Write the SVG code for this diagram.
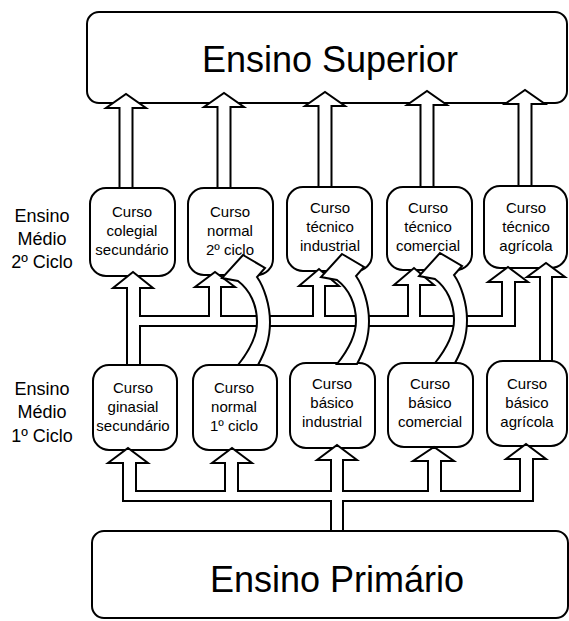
<svg xmlns="http://www.w3.org/2000/svg" width="569" height="621" viewBox="0 0 569 621">
<style>
.box{fill:#fff;stroke:#000;stroke-width:2}
.big{font-family:"Liberation Sans",Arial,sans-serif;font-size:36px;text-anchor:middle;fill:#000}
.t{font-family:"Liberation Sans",Arial,sans-serif;font-size:15px;text-anchor:middle;fill:#000}
.lab{font-family:"Liberation Sans",Arial,sans-serif;font-size:18px;text-anchor:middle;fill:#000}
.pipe{fill:#fff;stroke:#000;stroke-width:2;stroke-linejoin:miter}
</style>
<defs>
<path id="curve" d="M243,255 L265,268 L257,277 C264,287 270,305 270,322 C270,340 265,352 258,365 L238,365 C250,350 257,335 257,322 C257,305 250,290 238,281 L222,278 Z"/>
</defs>
<rect width="569" height="621" fill="#fff"/>

<g id="labels">
<text class="lab" x="42" y="222">Ensino</text>
<text class="lab" x="42" y="245">Médio</text>
<text class="lab" x="42" y="268">2º Ciclo</text>
<text class="lab" x="42" y="395">Ensino</text>
<text class="lab" x="42" y="418">Médio</text>
<text class="lab" x="42" y="442">1º Ciclo</text>
</g>

<g id="superior">
<rect class="box" x="87" y="12" width="480" height="91" rx="12"/>
<text class="big" x="330" y="72">Ensino Superior</text>
</g>

<g id="primario">
<rect class="box" x="92" y="531" width="476" height="87" rx="12"/>
<text class="big" x="337" y="592">Ensino Primário</text>
</g>

<g id="colegial">
<rect class="box" x="90" y="188" width="85" height="88" rx="16"/>
<text class="t" x="132" y="217">Curso</text>
<text class="t" x="132" y="236">colegial</text>
<text class="t" x="132" y="255">secundário</text>
</g>
<g id="normal2">
<rect class="box" x="188" y="188" width="85" height="87" rx="16"/>
<text class="t" x="230" y="217">Curso</text>
<text class="t" x="230" y="236">normal</text>
<text class="t" x="230" y="255">2º ciclo</text>
</g>
<g id="tecind">
<rect class="box" x="287" y="187" width="85" height="84" rx="16"/>
<text class="t" x="330" y="213">Curso</text>
<text class="t" x="330" y="232">técnico</text>
<text class="t" x="330" y="251">industrial</text>
</g>
<g id="teccom">
<rect class="box" x="387" y="187" width="85" height="83" rx="16"/>
<text class="t" x="428" y="213">Curso</text>
<text class="t" x="428" y="232">técnico</text>
<text class="t" x="428" y="251">comercial</text>
</g>
<g id="tecagr">
<rect class="box" x="484" y="186" width="83" height="82" rx="16"/>
<text class="t" x="526" y="213">Curso</text>
<text class="t" x="526" y="232">técnico</text>
<text class="t" x="526" y="251">agrícola</text>
</g>

<g id="ginasial">
<rect class="box" x="93" y="365" width="84" height="85" rx="16"/>
<text class="t" x="133" y="393">Curso</text>
<text class="t" x="133" y="412">ginasial</text>
<text class="t" x="133" y="431">secundário</text>
</g>
<g id="normal1">
<rect class="box" x="193" y="365" width="84" height="85" rx="16"/>
<text class="t" x="234" y="393">Curso</text>
<text class="t" x="234" y="412">normal</text>
<text class="t" x="234" y="431">1º ciclo</text>
</g>
<g id="basind">
<rect class="box" x="290" y="363" width="85" height="85" rx="16"/>
<text class="t" x="332" y="389">Curso</text>
<text class="t" x="332" y="408">básico</text>
<text class="t" x="332" y="427">industrial</text>
</g>
<g id="bascom">
<rect class="box" x="388" y="363" width="85" height="84" rx="16"/>
<text class="t" x="430" y="389">Curso</text>
<text class="t" x="430" y="408">básico</text>
<text class="t" x="430" y="427">comercial</text>
</g>
<g id="basagr">
<rect class="box" x="487" y="361" width="80" height="85" rx="16"/>
<text class="t" x="527" y="389">Curso</text>
<text class="t" x="527" y="408">básico</text>
<text class="t" x="527" y="427">agrícola</text>
</g>

<g id="connectors">
<path class="pipe" d="M119.5,188 L119.5,108 L106,108 L126,94 L146,108 L132.5,108 L132.5,188 Z"/>
<path class="pipe" d="M217.5,188 L217.5,107 L204,107 L224,93 L244,107 L230.5,107 L230.5,188 Z"/>
<path class="pipe" d="M318.5,187 L318.5,106 L305,106 L325,92 L345,106 L331.5,106 L331.5,187 Z"/>
<path class="pipe" d="M420.5,187 L420.5,105 L407,105 L427,91 L447,105 L433.5,105 L433.5,187 Z"/>
<path class="pipe" d="M518.5,186 L518.5,104 L505,104 L525,90 L545,104 L531.5,104 L531.5,186 Z"/>

<path class="pipe" d="M127,365 L127,288 L113,288 L133,272 L153,288 L140,288 L140,316 L209,316 L209,287 L195,287 L215,272 L235,287 L221,287 L221,316 L313,316 L313,286 L299,286 L319,269 L339,286 L325,286 L325,316 L408,316 L408,285 L394,285 L414,268 L434,285 L420,285 L420,316 L502,316 L502,282 L488,282 L508,267 L528,282 L515,282 L515,326 L140,326 L140,365 Z"/>
<path class="pipe" d="M540,361 L540,277 L527,277 L546,263 L565,277 L552,277 L552,361 Z"/>

<path class="pipe" d="M123,501 L123,463 L108,463 L128,448 L148,463 L136,463 L136,491 L225,491 L225,463 L212,463 L232,448 L252,463 L238,463 L238,491 L331,491 L331,460 L317,460 L337,445 L357,460 L343,460 L343,491 L428,491 L428,461 L413,461 L434,447 L454,461 L441,461 L441,491 L520,491 L520,459 L506,459 L526,444 L546,459 L533,459 L533,501 L343,501 L343,531 L331,531 L331,501 Z"/>

<use href="#curve" class="pipe"/>
<use href="#curve" class="pipe" transform="translate(99,-1)"/>
<use href="#curve" class="pipe" transform="translate(197,-2)"/>
</g>
</svg>
